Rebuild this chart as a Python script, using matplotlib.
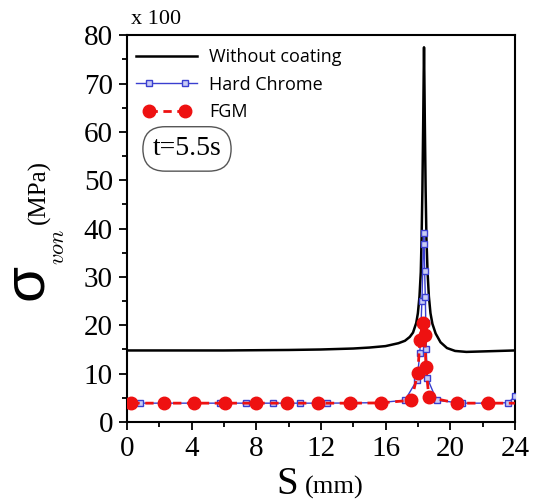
import matplotlib
matplotlib.use("Agg")
import matplotlib.pyplot as plt
from matplotlib.lines import Line2D
from matplotlib.legend_handler import HandlerLine2D
from matplotlib.ticker import MultipleLocator

# von Mises stress along the path S, values in units of 100 MPa
s_bare = [0.0, 2.0, 4.0, 6.0, 8.0, 10.0, 12.0, 14.0, 15.0, 16.0, 16.8, 17.2,
          17.5, 17.7, 17.9, 18.0, 18.1, 18.18, 18.23, 18.28, 18.33, 18.36,
          18.38, 18.40, 18.43, 18.48, 18.53, 18.6, 18.68, 18.78, 18.9, 19.1,
          19.4, 19.8, 20.3, 21.0, 22.0, 23.0, 24.0]
sig_bare = [14.8, 14.8, 14.8, 14.8, 14.85, 14.9, 15.0, 15.2, 15.4, 15.7, 16.3,
            16.8, 17.6, 18.5, 20.5, 22.5, 26.0, 31.0, 38.0, 48.0, 62.0, 72.0,
            77.5, 72.0, 62.0, 48.0, 38.0, 31.0, 26.0, 22.5, 20.3, 18.3, 16.5,
            15.3, 14.7, 14.5, 14.6, 14.7, 14.8]

s_chrome = [0.0, 0.8, 2.45, 4.1, 5.75, 7.4, 9.05, 10.7, 12.35, 14.0, 15.6,
            17.2, 17.95, 18.12, 18.25, 18.36, 18.39, 18.42, 18.46, 18.49,
            18.52, 18.58, 19.16, 20.7, 22.35, 23.6, 24.0]
sig_chrome = [3.9, 3.9, 3.9, 3.9, 3.9, 3.9, 3.9, 3.9, 3.9, 3.95, 4.0, 4.5,
              8.7, 14.2, 25.0, 39.0, 36.9, 31.3, 25.8, 20.4, 15.2, 9.1, 4.5,
              3.9, 3.9, 4.0, 5.3]

s_fgm = [0.28, 2.29, 4.16, 6.06, 7.98, 9.92, 11.84, 13.8, 15.69, 17.6, 18.0,
         18.12, 18.3, 18.43, 18.5, 18.68, 20.43, 22.35, 24.0]
sig_fgm = [3.9, 3.9, 3.9, 3.9, 3.9, 3.9, 3.9, 3.9, 3.95, 4.5, 10.2, 16.9,
           20.5, 17.9, 11.4, 5.1, 3.9, 3.9, 3.9]

x_ticks = [0, 4, 8, 12, 16, 20, 24]
y_ticks = [0, 10, 20, 30, 40, 50, 60, 70, 80]

serif = "Liberation Serif"


class FullLineHandler(HandlerLine2D):
    """Legend sample: solid lines run the whole handle, markers sit inside it."""

    def create_artists(self, legend, orig_handle, xdescent, ydescent,
                       width, height, fontsize, trans):
        y = (height - ydescent) / 2
        pad = 0.7 * fontsize
        x0, x1 = -xdescent, -xdescent + width
        if orig_handle.get_linestyle() not in ("-", "solid"):
            x0, x1 = x0 + pad, x1 - pad
        line = Line2D([x0, x1], [y, y])
        self.update_prop(line, orig_handle, legend)
        line.set_marker("")
        line.set_markevery(None)
        marks = Line2D([-xdescent + pad, -xdescent + width - pad], [y, y])
        self.update_prop(marks, orig_handle, legend)
        marks.set_linestyle("None")
        marks.set_markevery(None)
        line.set_transform(trans)
        marks.set_transform(trans)
        return [line, marks]


fig = plt.figure(figsize=(5.33, 5.03), dpi=100)
ax = fig.add_axes([0.238, 0.161, 0.728, 0.769])

ax.plot(s_bare, sig_bare, color="black", lw=1.8, label="Without coating", zorder=2)
ax.plot(s_chrome, sig_chrome, color="#3a3fd0", lw=1.0, marker="s", ms=4,
        mfc="#c8ccf5", mec="#3a3fd0", mew=1.0, label="Hard Chrome", zorder=3)
ax.plot(s_fgm, sig_fgm, color="#ee1111", lw=2.0, ls=(0, (3, 2)), marker="o",
        ms=9, mfc="#ee1111", mec="#ee1111", markevery=list(range(len(s_fgm) - 1)),
        label="FGM", zorder=4)

ax.set_xlim(0, 24)
ax.set_ylim(0, 80)
ax.set_xticks(x_ticks)
ax.set_yticks(y_ticks)
ax.xaxis.set_minor_locator(MultipleLocator(2))
ax.yaxis.set_minor_locator(MultipleLocator(5))
ax.tick_params(which="both", direction="out", top=False, right=False, width=1.3)
ax.tick_params(which="major", length=6, labelsize=21, pad=4)
ax.tick_params(which="minor", length=3.5)
for lab in ax.get_xticklabels() + ax.get_yticklabels():
    lab.set_fontfamily(serif)
for sp in ax.spines.values():
    sp.set_linewidth(1.5)

leg = ax.legend(loc="upper left", bbox_to_anchor=(0.0, 0.99), frameon=False,
                prop={"family": "Open Sans", "size": 13},
                handlelength=3.4, handletextpad=0.65, labelspacing=0.53,
                borderaxespad=0.1, numpoints=2,
                handler_map={Line2D: FullLineHandler()})

ax.text(0.155, 0.706, "t=5.5s", transform=ax.transAxes, ha="center", va="center",
        fontsize=20, family=serif,
        bbox=dict(boxstyle="round,pad=0.35,rounding_size=0.8", fc="white",
                  ec="#555555", lw=1.0))

fig.text(0.245, 0.962, "x 100", ha="left", va="center", fontsize=16, family=serif)

# axis titles built from pieces: big sigma, italic subscript, unit
fig.text(0.05, 0.44, "σ", rotation=90, ha="center", va="center", fontsize=42,
         family="Liberation Sans")
fig.text(0.109, 0.509, r"$von$", rotation=90, ha="center", va="center", fontsize=16,
         math_fontfamily="cm")
fig.text(0.073, 0.618, "(MPa)", rotation=90, ha="center", va="center", fontsize=18,
         family=serif)
fig.text(0.539, 0.018, "S", ha="center", va="baseline", fontsize=28, family=serif)
fig.text(0.628, 0.018, "(mm)", ha="center", va="baseline", fontsize=19, family=serif)

fig.savefig("out.png", dpi=100)
